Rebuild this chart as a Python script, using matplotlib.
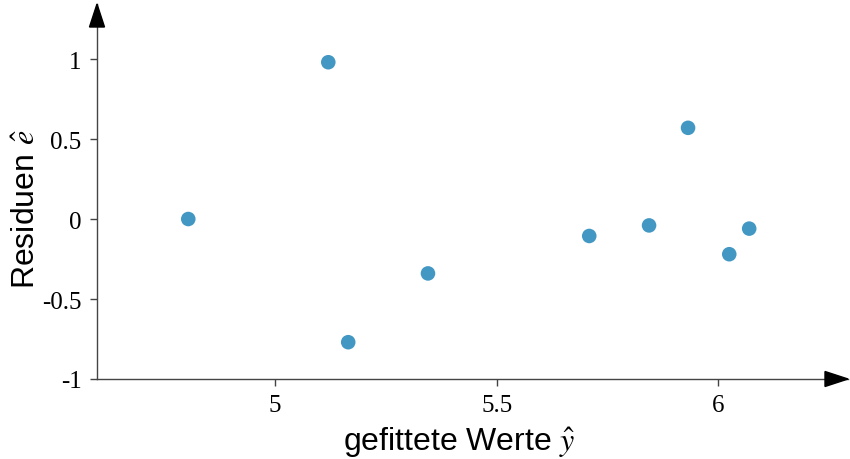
import matplotlib
matplotlib.use("Agg")
import matplotlib.pyplot as plt
from matplotlib.patches import Polygon
from matplotlib.transforms import ScaledTranslation

fitted = [4.804, 5.12, 5.165, 5.345, 5.709, 5.844, 5.932, 6.025, 6.07]
resid = [0.0, 0.98, -0.77, -0.34, -0.106, -0.04, 0.57, -0.22, -0.06]
xticks = [5, 5.5, 6]
xticklabels = ["5", "5.5", "6"]
yticks = [-1, -0.5, 0, 0.5, 1]
yticklabels = ["-1", "-0.5", "0", "0.5", "1"]

plt.rcParams["mathtext.fontset"] = "stix"

W, H = 850, 460
fig = plt.figure(figsize=(W / 100, H / 100), dpi=100)
ax = fig.add_axes([97 / W, (H - 380) / H, (848 - 97) / W, (380 - 5) / H])

ax.scatter(fitted, resid, s=110, color="#4398c3", edgecolors="none", zorder=3)

ax.set_xlim(4.598, 6.293)
ax.set_ylim(-1, 1.344)
ax.set_xticks(xticks)
ax.set_xticklabels(xticklabels)
ax.set_yticks(yticks)
ax.set_yticklabels(yticklabels)

for s in ["top", "right"]:
    ax.spines[s].set_visible(False)
for s in ["left", "bottom"]:
    ax.spines[s].set_color("#444444")
    ax.spines[s].set_linewidth(1.0)

ax.tick_params(direction="out", length=5, width=1, color="#444444",
               labelsize=18, pad=6)
for lab in ax.get_xticklabels() + ax.get_yticklabels():
    lab.set_fontfamily("Liberation Serif")

ax.set_xlabel(r"gefittete Werte $\hat{y}$", fontsize=23,
              fontfamily="Liberation Sans", labelpad=6)
ax.set_ylabel(r"Residuen $\hat{e}$", fontsize=23,
              fontfamily="Liberation Sans", labelpad=0)
ax.xaxis.label.set_x(0.483)
ax.yaxis.label.set_y(0.455)

# arrow heads at axis ends
L, hw = 0.23, 0.075
tx = fig.dpi_scale_trans + ScaledTranslation(1, 0, ax.transAxes)
ax.add_patch(Polygon([(0, 0), (-L, hw), (-L, -hw)], closed=True,
                     color="black", transform=tx, clip_on=False, zorder=5))
ty = fig.dpi_scale_trans + ScaledTranslation(0, 1, ax.transAxes)
ax.add_patch(Polygon([(0, 0), (hw, -L), (-hw, -L)], closed=True,
                     color="black", transform=ty, clip_on=False, zorder=5))

fig.savefig("out.png", dpi=100)
